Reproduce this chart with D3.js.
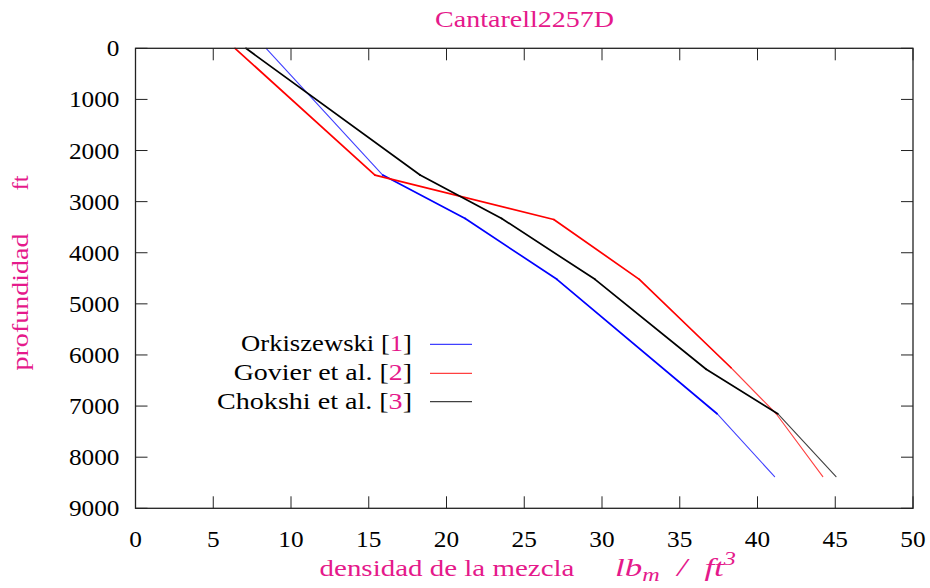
<!DOCTYPE html>
<html><head><meta charset="utf-8">
<script src="https://cdn.jsdelivr.net/npm/d3@7"></script>
<style>body{margin:0;background:#fff}svg{display:block}text{font-family:"Liberation Serif","Times New Roman",serif}</style>
</head><body><svg id="c" width="930" height="588"></svg>
<script>
const title = "Cantarell2257D";
const xTicks = [0,5,10,15,20,25,30,35,40,45,50];
const yTicks = [0,1000,2000,3000,4000,5000,6000,7000,8000,9000];
const seriesNames = ["Orkiszewski", "Govier et al.", "Chokshi et al."];
const seriesRefs = ["1","2","3"];
const orkDepth = [0, 2480, 3330, 4520, 7150, 8380];
const orkDens  = [8.4, 15.9, 21.2, 27.1, 37.4, 41.1];
const govDepth = [0, 2480, 3350, 4520, 6250, 7150, 8380];
const govDens  = [6.4, 15.4, 26.9, 32.4, 38.3, 41.2, 44.2];
const choDepth = [0, 2480, 3330, 4520, 6280, 7150, 8380];
const choDens  = [7.1, 18.3, 23.55, 29.55, 36.7, 41.3, 45.05];

const pink = "#e5198b";
const colors = ["#0000ff","#ff0000","#000000"];
const thinSegs = [[0,4],[4,5],[5]];

const svg = d3.select("#c");
const L=135.5, R=913, T=48.3, B=508.3;
const x = d3.scaleLinear().domain([0,50]).range([L,R]);
const y = d3.scaleLinear().domain([0,9000]).range([T,B]);

// text placed in a group, stretched horizontally to a target width (mimics Computer Modern widths)
function fitText(px, py, anchor, size, fill, target, rot){
  const g = svg.append("g");
  const t = g.append("text").attr("text-anchor",anchor).attr("font-size",size).attr("fill",fill||"#000");
  t.fit = () => {
    const w = t.node().getComputedTextLength();
    const k = target ? target / w : 1.1;
    g.attr("transform",`translate(${px},${py})${rot?` rotate(${rot})`:""} scale(${k},1)`);
  };
  return t;
}

const tk = 12;
xTicks.forEach(v=>{
  svg.append("line").attr("x1",x(v)).attr("x2",x(v)).attr("y1",B).attr("y2",B-tk).attr("stroke","#222");
  svg.append("line").attr("x1",x(v)).attr("x2",x(v)).attr("y1",T).attr("y2",T+tk).attr("stroke","#222");
  const t = fitText(x(v),546.5,"middle",23,null,null); t.text(v); t.fit();
});
yTicks.forEach(v=>{
  svg.append("line").attr("x1",L).attr("x2",L+tk).attr("y1",y(v)).attr("y2",y(v)).attr("stroke","#222");
  svg.append("line").attr("x1",R).attr("x2",R-tk).attr("y1",y(v)).attr("y2",y(v)).attr("stroke","#222");
  const t = fitText(119.5,y(v)+8,"end",23,null,null); t.text(v); t.fit();
});

const series = [[orkDens,orkDepth],[govDens,govDepth],[choDens,choDepth]];
series.forEach(([dx,dy],si)=>{
  for(let i=0;i<dx.length-1;i++){
    const thin = thinSegs[si].includes(i);
    svg.append("line")
      .attr("x1",x(dx[i])).attr("y1",y(dy[i]))
      .attr("x2",x(dx[i+1])).attr("y2",y(dy[i+1]))
      .attr("stroke",colors[si])
      .attr("stroke-opacity",thin?0.75:1)
      .attr("stroke-width",thin?1.1:1.7)
      .attr("stroke-linecap","round");
  }
});

svg.append("rect").attr("x",L).attr("y",T).attr("width",R-L).attr("height",B-T)
  .attr("fill","none").attr("stroke","#222").attr("stroke-width",1.3);

const legY = [344.3, 373.3, 401.7];
const legW = [171, 178.5, 195];
seriesNames.forEach((n,i)=>{
  const t = fitText(412,legY[i]+7,"end",24,null,legW[i]);
  t.append("tspan").text(n+" [");
  t.append("tspan").attr("fill",pink).text(seriesRefs[i]);
  t.append("tspan").text("]");
  t.fit();
  svg.append("line").attr("x1",430).attr("x2",472).attr("y1",legY[i]).attr("y2",legY[i])
    .attr("stroke",colors[i]).attr("stroke-opacity",0.75).attr("stroke-width",1.2);
});

const tt = fitText(524.5,27,"middle",24,pink,179); tt.text(title); tt.fit();

const yl1 = fitText(28,302,"middle",24,pink,137,-90); yl1.text("profundidad"); yl1.fit();
const yl2 = fitText(28,183,"middle",24,pink,15,-90); yl2.text("ft"); yl2.fit();

const xl1 = fitText(447,576,"middle",24,pink,255); xl1.text("densidad de la mezcla"); xl1.fit();
const xl = fitText(615,576,"start",26,pink,121);
xl.attr("font-style","italic");
xl.append("tspan").text("lb");
xl.append("tspan").attr("font-size",18).attr("dy",5).text("m");
xl.append("tspan").attr("dy",-5).attr("xml:space","preserve").text("  /  ");
xl.append("tspan").text("ft");
xl.append("tspan").attr("font-size",18).attr("dy",-11).text("3");
xl.fit();
</script></body></html>
